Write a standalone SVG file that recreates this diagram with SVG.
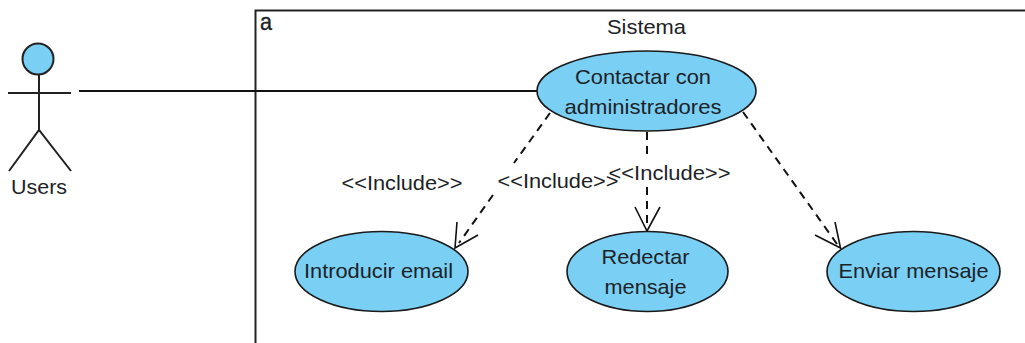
<svg xmlns="http://www.w3.org/2000/svg" width="1025" height="343" viewBox="0 0 1025 343">
<style>
text{font-family:"Liberation Sans",Arial,sans-serif;font-size:21px;fill:#1c2226;text-anchor:middle}
.uc{fill:#7acff5;stroke:#1a1a1a;stroke-width:1.6}
.st{fill:none;stroke:#222;stroke-width:2}
.ln{fill:none;stroke:#111;stroke-width:2}
.ds{fill:none;stroke:#111;stroke-width:2;stroke-dasharray:8 6}
.ah{fill:none;stroke:#111;stroke-width:1.6}
</style>
<rect width="1025" height="343" fill="#fff"/>
<g id="system">
<path d="M1025 10.500H255.500V343" fill="none" stroke="#222" stroke-width="2"/>
<text x="266" y="30" style="font-size:24px;stroke:#1c2226;stroke-width:.4" textLength="12" lengthAdjust="spacingAndGlyphs">a</text>
<text x="646.500" y="34" textLength="79" lengthAdjust="spacingAndGlyphs">Sistema</text>
</g>
<g id="connectors">
<path class="ln" d="M79 91H537"/>
<path class="ds" d="M550 113L514 163M493 195L459 243"/>
<path class="ah" d="M457 222L455 248L478 235"/>
<path class="ds" d="M647 132V155M647 187V229"/>
<path class="ah" d="M635 207L647 231L660 207"/>
<path class="ds" d="M743 112L837 244"/>
<path class="ah" d="M835 222L840.500 248L815 235"/>
</g>
<g id="actor-users">
<circle cx="38" cy="59" r="15.500" fill="#7acff5" stroke="#222" stroke-width="2"/>
<path class="st" d="M39 74.500V130M8 93H71M9 171L39 130L71 171"/>
<text x="39" y="194" textLength="56" lengthAdjust="spacingAndGlyphs">Users</text>
</g>
<g id="uc-contactar">
<ellipse class="uc" cx="646.500" cy="91" rx="109.500" ry="40"/>
<text x="643" y="84" textLength="136" lengthAdjust="spacingAndGlyphs">Contactar con</text>
<text x="643" y="114" textLength="157" lengthAdjust="spacingAndGlyphs">administradores</text>
</g>
<g id="uc-introducir">
<ellipse class="uc" cx="381.500" cy="271.500" rx="86.500" ry="40"/>
<text x="378.500" y="278" textLength="149" lengthAdjust="spacingAndGlyphs">Introducir email</text>
</g>
<g id="uc-redectar">
<ellipse class="uc" cx="647.500" cy="271.500" rx="80.500" ry="40"/>
<text x="645.500" y="264" textLength="88" lengthAdjust="spacingAndGlyphs">Redectar</text>
<text x="645.500" y="294" textLength="82" lengthAdjust="spacingAndGlyphs">mensaje</text>
</g>
<g id="uc-enviar">
<ellipse class="uc" cx="913.500" cy="271.500" rx="86.500" ry="40"/>
<text x="913.500" y="278" textLength="150" lengthAdjust="spacingAndGlyphs">Enviar mensaje</text>
</g>
<g id="labels">
<text x="402" y="190" textLength="121" lengthAdjust="spacingAndGlyphs">&lt;&lt;Include&gt;&gt;</text>
<text x="558" y="188" textLength="121" lengthAdjust="spacingAndGlyphs">&lt;&lt;Include&gt;&gt;</text>
<text x="669.500" y="180" textLength="122" lengthAdjust="spacingAndGlyphs">&lt;&lt;Include&gt;&gt;</text>
</g>
</svg>
